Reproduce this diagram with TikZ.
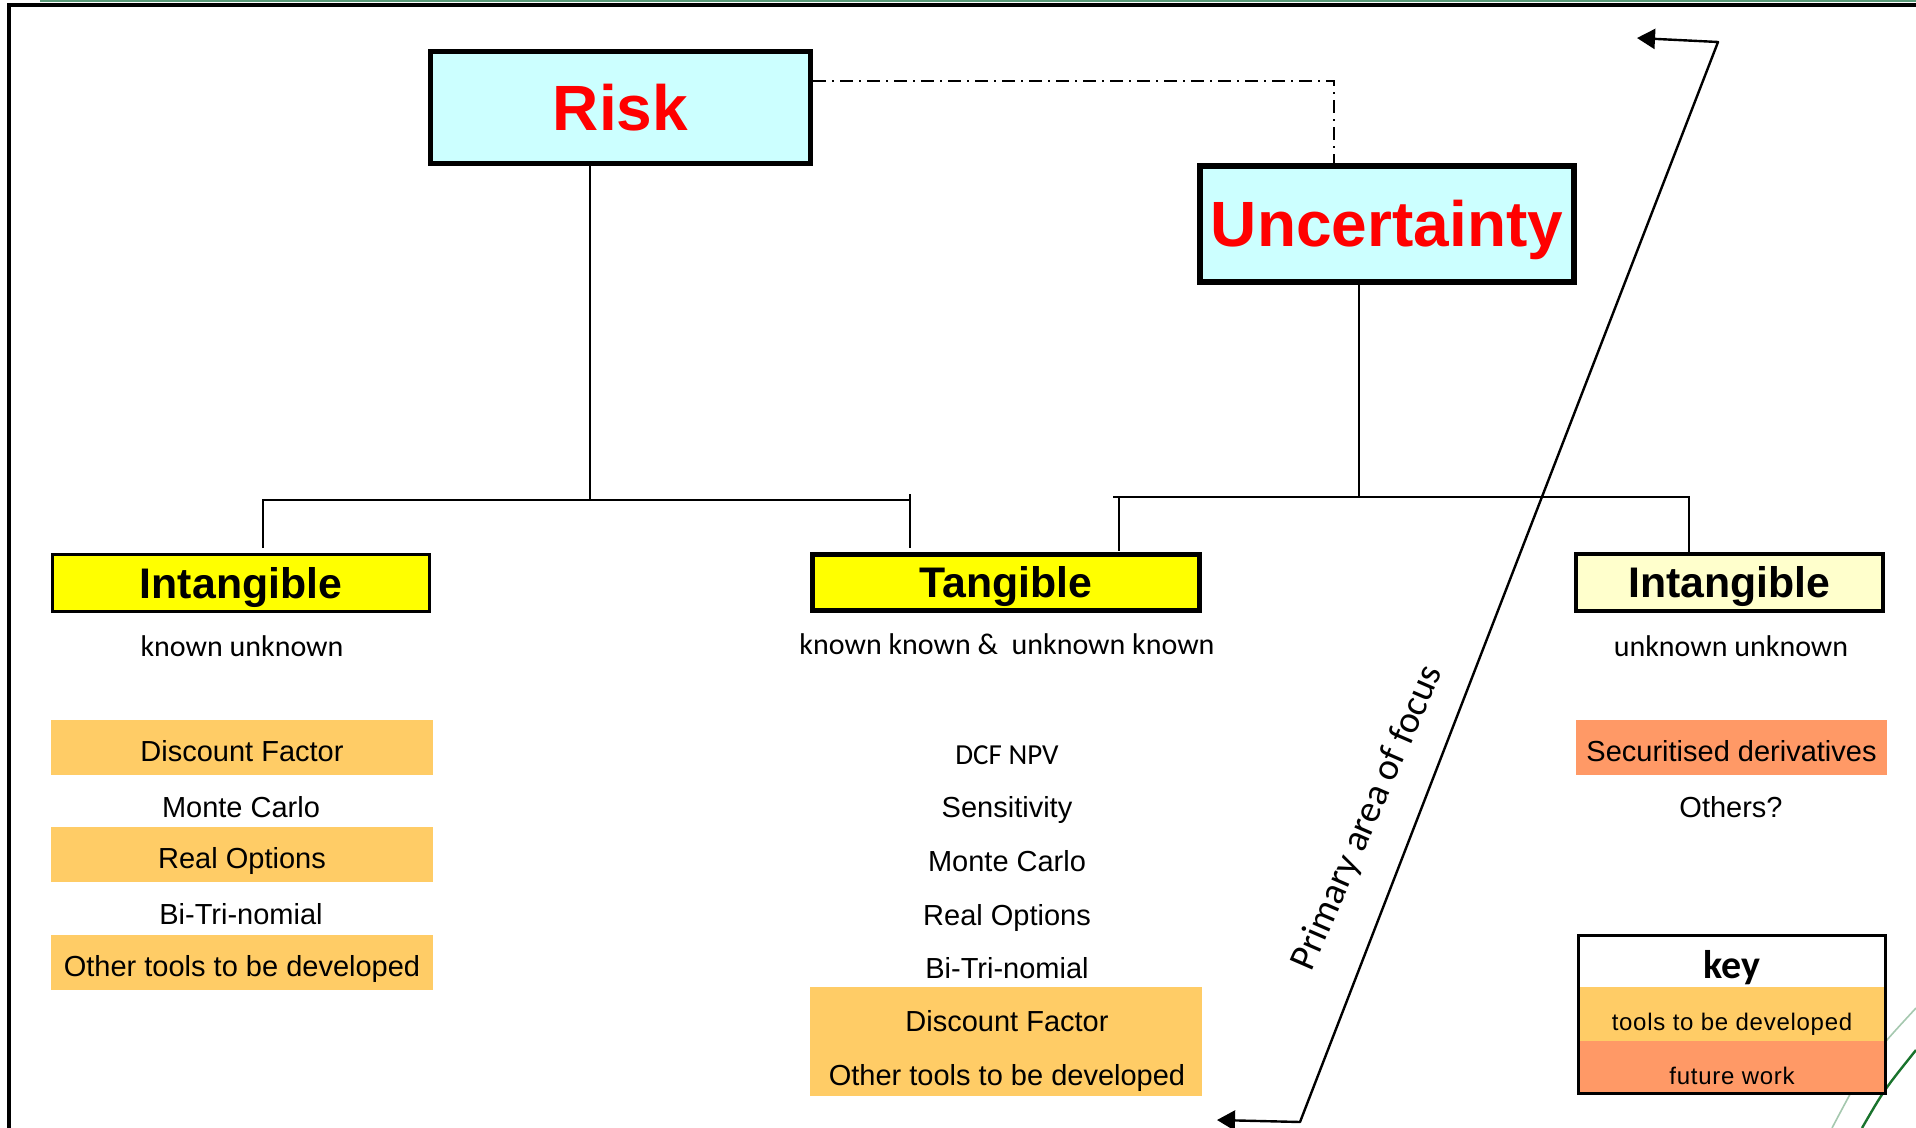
\documentclass[tikz,border=0pt]{standalone}
\usepackage{fontspec}
\setmainfont{Liberation Sans}
\newfontfamily\calib{Carlito}
\usetikzlibrary{arrows.meta}
\definecolor{cyanbox}{RGB}{204,255,255}
\definecolor{yelbox}{RGB}{255,255,0}
\definecolor{lightyel}{RGB}{255,255,204}
\definecolor{orng}{RGB}{255,204,102}
\definecolor{salmon}{RGB}{255,153,102}
\definecolor{greentop}{RGB}{90,155,120}
\definecolor{darkgreen}{RGB}{25,115,45}
\definecolor{lightgreen}{RGB}{165,200,175}
\tikzset{
  titlebox/.style={draw=black, line width=2.8pt, fill=cyanbox, text=red, inner sep=0,
    font=\fontsize{32}{38}\selectfont\bfseries, text height=23pt, text depth=0pt},
  catbox/.style={draw=black, fill=yelbox, inner sep=0,
    font=\fontsize{21.4}{25}\selectfont\bfseries, text height=15.4pt, text depth=0pt},
  subtxt/.style={inner sep=0, font=\calib\fontsize{15}{18}\selectfont, text height=10pt, text depth=0pt},
  tool/.style={fill=orng, inner sep=0, minimum width=191pt, minimum height=27.5pt,
    font=\fontsize{14.5}{17}\selectfont, text height=13.8pt, text depth=0pt},
  plain/.style={inner sep=0, font=\fontsize{14.5}{17}\selectfont, text height=10.4pt, text depth=3.6pt},
  band/.style={inner sep=0, minimum width=155pt, minimum height=27pt,
    font=\fontsize{12}{14}\selectfont\addfontfeature{LetterSpace=3}, text height=16.6pt, text depth=0pt},
  conn/.style={line width=1.2pt, black},
  dashdotline/.style={line width=1pt, dash pattern=on 6.5pt off 3pt on 1pt off 3pt},
  focusarrow/.style={line width=1.2pt, line join=round, {Triangle[length=9pt,width=10pt]}-{Triangle[length=9pt,width=10pt]}}
}
\begin{document}
\begin{tikzpicture}[x=0.5pt,y=-0.5pt]
\useasboundingbox (0,0) rectangle (1916,1128);
\fill[white] (0,0) rectangle (1916,1128);

% frame
\coordinate (gL) at (40,1);
\coordinate (gR) at (1916,1);
\draw[greentop, line width=1pt] (gL) -- (gR);
\coordinate (fBL) at (9,1128);
\coordinate (fTL) at (9,5.5);
\coordinate (fTR) at (1916,5.5);
\draw[line width=2pt] (fBL) -- (fTL) -- (fTR);

% green curves bottom right
\coordinate (c1a) at (1832,1128);
\coordinate (c1c) at (1868,1060);
\coordinate (c1b) at (1916,1008);
\draw[lightgreen, line width=0.8pt] (c1a) .. controls (c1c) .. (c1b);
\coordinate (c2a) at (1862,1128);
\coordinate (c2c) at (1884,1090);
\coordinate (c2b) at (1916,1050);
\draw[darkgreen, line width=1.2pt] (c2a) .. controls (c2c) .. (c2b);

% main boxes
\node[titlebox, minimum width=190pt, minimum height=56pt] (risk) at (620.5,107.5) {Risk};
\node[titlebox, minimum width=187pt, minimum height=58pt] (unc) at (1387,224) {Uncertainty};

\node[catbox, line width=1.5pt, minimum width=188.5pt, minimum height=28.5pt] (intL) at (241,583) {Intangible};
\node[catbox, line width=2.5pt, minimum width=193.5pt, minimum height=28pt] (tang) at (1006,582.5) {Tangible};
\node[catbox, fill=lightyel, line width=2pt, minimum width=153.5pt, minimum height=28.5pt] (intR) at (1729.5,582.5) {Intangible};

% dash-dot link
\coordinate (dd) at (1334,81);
\draw[dashdotline] (risk.east |- dd) -- (dd) -- (dd |- unc.north);

% tree connectors
\coordinate (jL) at (590,500);
\draw[conn] (risk.south -| jL) -- (jL);
\coordinate (hL1) at (263,500);
\coordinate (hL2) at (910,500);
\coordinate (dL1) at (263,548);
\coordinate (tL2) at (910,494);
\coordinate (dL2) at (910,548);
\draw[conn] (dL1) -- (hL1) -- (hL2);
\draw[conn] (tL2) -- (dL2);

\coordinate (jR) at (1359,497);
\draw[conn] (unc.south -| jR) -- (jR);
\coordinate (hR1) at (1113,497);
\coordinate (hR2) at (1690,497);
\draw[conn] (hR1) -- (hR2);
\coordinate (tR1) at (1119,497);
\coordinate (dR1) at (1119,551);
\coordinate (tR2) at (1689,497);
\coordinate (dR2) at (1689,552);
\draw[conn] (tR1) -- (dR1);
\draw[conn] (tR2) -- (dR2);

% sub labels
\node[subtxt] (subL) at (242,646) {known unknown};
\node[subtxt] (subT) at (1007,644) {known known \&\ \ unknown known};
\node[subtxt] (subR) at (1731,646) {unknown unknown};

% left column
\node[tool] (dfL) at (242,747.5) {Discount Factor};
\node[plain] (mcL) at (241,811) {Monte Carlo};
\node[tool] (roL) at (242,854.5) {Real Options};
\node[plain] (btL) at (241,918) {Bi-Tri-nomial};
\node[tool] (otL) at (242,962.5) {Other tools to be developed};

% centre column
\node[plain, font=\calib\fontsize{14.5}{17}\selectfont] (dcf) at (1007,758) {DCF NPV};
\node[plain] (sens) at (1007,811) {Sensitivity};
\node[plain] (mcT) at (1007,865) {Monte Carlo};
\node[plain] (roT) at (1007,919) {Real Options};
\node[plain] (btT) at (1007,972) {Bi-Tri-nomial};
\node[fill=orng, inner sep=0, minimum width=196pt, minimum height=54.5pt] (orT) at (1006,1041.5) {};
\node[plain] (dfT) at (1007,1025) {Discount Factor};
\node[plain] (otT) at (1007,1079) {Other tools to be developed};

% right column
\node[tool, fill=salmon, minimum width=155.5pt] (sec) at (1731.5,747.5) {Securitised derivatives};
\node[plain] (oth) at (1731,811) {Others?};

% key
\node[fill=white, inner sep=0, minimum width=155pt, minimum height=26.5pt] (keyW) at (1732,960.5) {};
\node[band, fill=orng] (keyO) at (1732,1014) {tools to be developed};
\node[band, fill=salmon] (keyS) at (1732,1068) {future work};
\node[inner sep=0, font=\calib\fontsize{20}{24}\selectfont\bfseries, text height=13pt, text depth=0pt] (keyH) at (1732,965) {key};
\node[draw, line width=1.5pt, inner sep=0, minimum width=153.5pt, minimum height=79pt] (keyF) at (1732,1014.5) {};

% primary area of focus
\coordinate (pTop) at (1718,42);
\coordinate (pTopTip) at (1637,38);
\coordinate (pBot) at (1300,1122);
\coordinate (pBotTip) at (1217,1120);
\draw[focusarrow] (pBotTip) -- (pBot) -- (pTop) -- (pTopTip);
\node[inner sep=0, rotate=66.5, font=\calib\fontsize{19}{22}\selectfont] (focus) at (1368,818) {Primary area of focus};
\end{tikzpicture}
\end{document}
